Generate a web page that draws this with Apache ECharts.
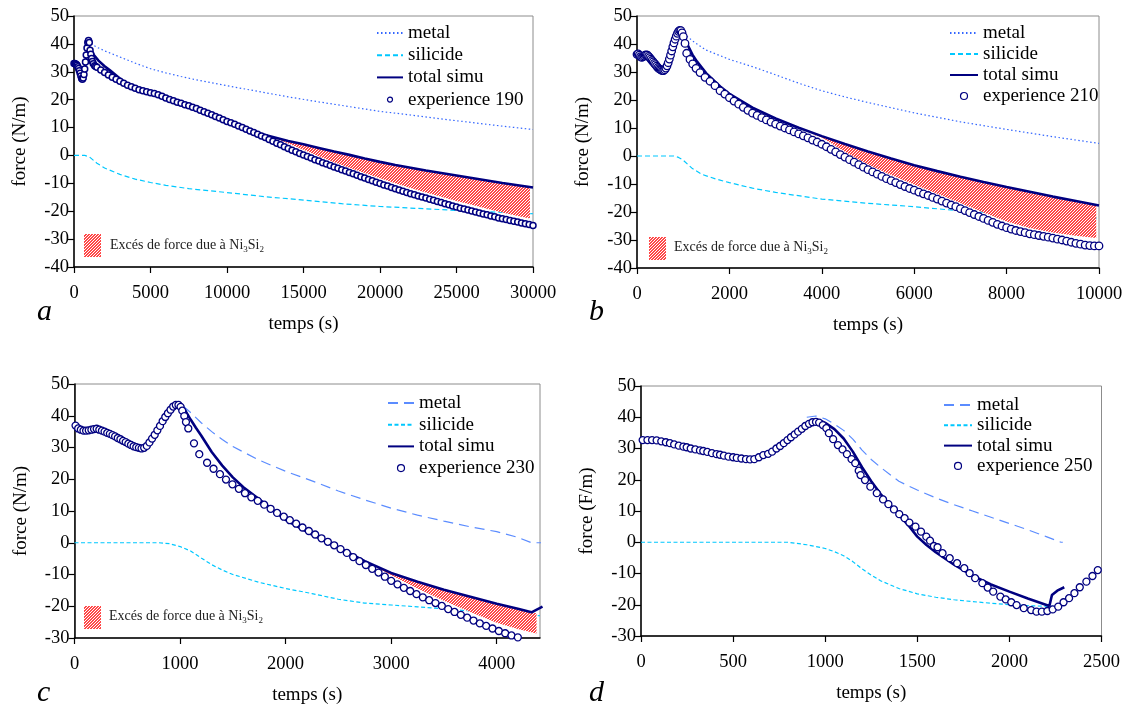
<!DOCTYPE html>
<html><head><meta charset="utf-8">
<script src="https://cdn.jsdelivr.net/npm/echarts@6/dist/echarts.min.js"></script>
<style>html,body{margin:0;padding:0;background:#fff}#c{width:1126px;height:706px}</style>
</head><body><div id="c"></div>
<script>
// ---------- Panel a (experience 190) ----------
const metalA = [[1100,40],[1500,38.8],[2000,37.5],[3000,35.3],[4000,33.1],[5000,31.1],[6000,29.6],[7000,28.3],[8000,27.1],[10000,25],[12000,23],[14000,21],[16000,19.2],[18000,17.5],[20000,15.8],[22000,14.5],[24000,13.1],[26000,11.8],[28000,10.5],[30000,9.3]];
const silA = [[0,0],[700,0],[1000,-0.5],[1500,-2.8],[2000,-4.5],[3000,-6.8],[4000,-8.5],[5000,-9.7],[6000,-10.7],[7500,-11.9],[10000,-13.3],[12500,-14.8],[15000,-16],[17500,-17.3],[20000,-18.3],[22500,-19],[25000,-19.7],[27500,-20.3],[30000,-20.9]];
const totA = [[0,33],[200,32.3],[400,29.5],[500,27.6],[600,27.8],[700,31],[800,35],[900,38.5],[1000,38.6],[1100,37.8],[1300,36],[1600,34],[2000,32],[2350,30.5],[3000,27.6],[3500,25.4],[4000,24.2],[5000,22.5],[6000,20.6],[7000,18.7],[8000,16.8],[9000,14.6],[10000,12.3],[11000,10.1],[12000,8],[13000,6.6],[14000,5.2],[15000,4],[16000,2.7],[17000,1.4],[18000,0.2],[19000,-1.1],[20000,-2.3],[21000,-3.4],[22000,-4.4],[23000,-5.4],[24000,-6.3],[25000,-7.2],[26000,-8.1],[27000,-9],[28000,-9.9],[29000,-10.7],[30000,-11.5]];
const expA = [[0,33],[50,33],[100,32.8],[150,32.6],[200,32.3],[250,31.8],[300,31.2],[350,30.4],[400,29.5],[450,28.5],[500,27.6],[550,27.3],[600,27.8],[650,29],[700,31],[750,33.5],[800,36],[850,38.5],[900,40.5],[950,41.2],[1000,40.5],[1050,37.7],[1100,36.3],[1150,34.8],[1200,33.7],[1263,32.9],[1350,32.2],[1420,31.9],
[1500,31.6],[1750,30.6],[2000,29.7],[2250,28.8],[2500,28],[2750,27.3],[3000,26.6],[3250,25.9],[3500,25.2],[3750,24.6],[4000,24.1],[4250,23.6],[4500,23.2],[4750,22.8],[5000,22.5],[5250,22.2],[5500,21.8],[5750,21.2],[6000,20.6],[6250,20.1],[6500,19.6],[6750,19.1],[7000,18.7],[7250,18.2],[7500,17.8],[7750,17.3],[8000,16.8],[8250,16.2],[8500,15.7],[8750,15.1],[9000,14.6],[9250,14],[9500,13.4],[9750,12.8],[10000,12.2],[10250,11.7],[10500,11.2],[10750,10.6],[11000,10],[11250,9.4],[11500,8.8],[11750,8.2],[12000,7.6],[12250,7],[12500,6.4],[12750,5.7],[13000,5.1],[13250,4.4],[13500,3.8],[13750,3.1],[14000,2.5],[14250,1.9],[14500,1.3],[14750,0.7],[15000,0.2],[15250,-0.4],[15500,-0.9],[15750,-1.5],[16000,-2],[16250,-2.6],[16500,-3.1],[16750,-3.6],[17000,-4.1],[17250,-4.6],[17500,-5.1],[17750,-5.6],[18000,-6.1],[18250,-6.6],[18500,-7.1],[18750,-7.6],[19000,-8.1],[19250,-8.6],[19500,-9.1],[19750,-9.6],[20000,-10.1],[20250,-10.6],[20500,-11],[20750,-11.5],[21000,-11.9],[21250,-12.4],[21500,-12.8],[21750,-13.3],[22000,-13.7],[22250,-14.1],[22500,-14.5],[22750,-14.9],[23000,-15.3],[23250,-15.7],[23500,-16.1],[23750,-16.5],[24000,-16.9],[24250,-17.3],[24500,-17.7],[24750,-18.1],[25000,-18.5],[25250,-18.9],[25500,-19.2],[25750,-19.6],[26000,-19.9],[26250,-20.3],[26500,-20.6],[26750,-21],[27000,-21.3],[27250,-21.7],[27500,-22],[27750,-22.4],[28000,-22.7],[28250,-23],[28500,-23.3],[28750,-23.6],[29000,-23.9],[29250,-24.2],[29500,-24.5],[29750,-24.8],[30000,-25.1]];
const hatchTopA = [[12700,7],[13000,6.6],[14000,5.2],[15000,4],[16000,2.7],[17000,1.4],[18000,0.2],[19000,-1.1],[20000,-2.3],[21000,-3.4],[22000,-4.4],[23000,-5.4],[24000,-6.3],[25000,-7.2],[26000,-8.1],[27000,-9],[28000,-9.9],[29000,-10.7],[29800,-11.3]];
const hatchBotA = [[12700,7],[13000,6.5],[14000,4.3],[15000,2],[16000,-0.3],[17000,-2.4],[18000,-4.4],[19000,-6.3],[20000,-8.2],[21000,-10],[22000,-11.7],[23000,-13.3],[24000,-14.8],[25000,-16.3],[26000,-17.7],[27000,-19.1],[28000,-20.5],[29000,-21.7],[29800,-22.6]];

// ---------- Panel b (experience 210) ----------
const metalB = [[1000,43.5],[1100,42.5],[1250,40.5],[1500,37.8],[2000,34.5],[2500,31.9],[3000,29],[3500,26],[4000,23.3],[4500,21.1],[5000,19.1],[6000,15.4],[7000,12.2],[8000,9.5],[9000,6.9],[10000,4.5]];
const silB = [[0,0],[800,0],[900,-0.5],[1000,-1.5],[1100,-3],[1200,-4.5],[1400,-6.5],[1700,-8.2],[2000,-9.5],[2500,-11.5],[3000,-13],[4000,-15.4],[5000,-16.9],[6000,-18.1],[7000,-19.6],[8000,-20.5],[9000,-21.4],[10000,-22.2]];
const totB = [[0,36.3],[100,35.2],[200,36.1],[300,34.6],[400,32.6],[500,30.9],[575,30.5],[650,32.2],[750,37.5],[850,42.8],[925,44.9],[960,44.5],[1000,43],[1100,39.5],[1200,36.2],[1300,33.7],[1500,29.5],[1800,24.8],[2000,22.2],[2500,17.3],[3000,13.4],[3500,10.1],[4000,7.1],[4500,4.3],[5000,1.6],[5500,-0.9],[6000,-3.3],[6500,-5.4],[7000,-7.4],[7500,-9.3],[8000,-11.1],[8500,-12.8],[9000,-14.5],[9500,-16.1],[10000,-17.7]];
const expB = [[0,36.3],[25,36.5],[50,36],[75,35.5],[100,35.2],[125,35.4],[150,35.7],[175,36],[200,36.1],[225,36],[250,35.6],[275,35.1],[300,34.6],[325,34.1],[350,33.6],[375,33.1],[400,32.6],[425,32.1],[450,31.6],[475,31.2],[500,30.9],[525,30.7],[550,30.5],[575,30.5],[600,30.8],[625,31.4],[650,32.2],[675,33.3],[700,34.6],[725,36],[750,37.5],[775,39],[800,40.4],[825,41.7],[850,42.8],[875,43.8],[900,44.5],[925,44.9],[950,44.8],[975,44],[1003,42.6],[1039,40.2],[1075,36.7],[1147,34.5],[1205,32.9],[1277,31.3],[1364,29.8],[1472,28.1],[1580,26.7],[1688,25.1],[1797,23.3],[1900,22.1],[2000,20.8],[2100,19.6],[2200,18.5],[2300,17.4],[2400,16.3],[2500,15.3],[2600,14.5],[2700,13.7],[2800,12.9],[2900,12.1],[3000,11.4],[3100,10.7],[3200,10],[3300,9.3],[3400,8.6],[3500,7.9],[3600,7.2],[3700,6.5],[3800,5.7],[3900,5],[4000,4.2],[4100,3.3],[4200,2.4],[4300,1.5],[4400,0.5],[4500,-0.4],[4600,-1.3],[4700,-2.2],[4800,-3.1],[4900,-4],[5000,-4.9],[5100,-5.7],[5200,-6.5],[5300,-7.3],[5400,-8.1],[5500,-8.8],[5600,-9.5],[5700,-10.2],[5800,-10.9],[5900,-11.6],[6000,-12.2],[6100,-12.9],[6200,-13.5],[6300,-14.1],[6400,-14.8],[6500,-15.4],[6600,-16.1],[6700,-16.8],[6800,-17.5],[6900,-18.1],[7000,-18.8],[7100,-19.5],[7200,-20.2],[7300,-20.9],[7400,-21.6],[7500,-22.3],[7600,-23],[7700,-23.7],[7800,-24.4],[7900,-25],[8000,-25.6],[8100,-26.1],[8200,-26.6],[8300,-27],[8400,-27.4],[8500,-27.8],[8600,-28.1],[8700,-28.4],[8800,-28.7],[8900,-29],[9000,-29.3],[9100,-29.7],[9200,-30],[9300,-30.4],[9400,-30.8],[9500,-31.2],[9600,-31.5],[9700,-31.8],[9800,-32],[9900,-32.1],[10000,-32.1]];
const hatchTopB = [[3800,7.7],[4000,7.1],[4500,4.3],[5000,1.6],[5500,-0.9],[6000,-3.3],[6500,-5.4],[7000,-7.4],[7500,-9.3],[8000,-11.1],[8500,-12.8],[9000,-14.5],[9500,-16.1],[9940,-17.5]];
const hatchBotB = [[3800,7.7],[4000,6.6],[4500,1.5],[5000,-3],[5500,-6.8],[6000,-10.2],[6500,-13.5],[7000,-16.8],[7500,-20.2],[8000,-23.4],[8500,-25.7],[9000,-27.3],[9500,-28.5],[9940,-29.3]];

// ---------- Panel c (experience 230) ----------
const metalC = [[1030,43],[1100,41],[1200,37.8],[1300,35],[1400,32.5],[1500,30.3],[1750,26],[2000,22.5],[2250,19.5],[2500,16.3],[2750,13.5],[3000,10.9],[3250,8.7],[3500,6.8],[3750,5],[4000,3.5],[4200,1.7],[4330,0],[4420,0]];
const silC = [[0,0],[800,0],[900,-0.3],[1000,-1.2],[1100,-2.6],[1200,-4.8],[1300,-6.9],[1400,-8.6],[1500,-10],[1750,-12.5],[2000,-14.4],[2250,-16],[2500,-17.8],[2750,-19],[3000,-19.6],[3250,-20.2],[3500,-20.8],[3750,-21.5],[4000,-22.2],[4410,-23]];
const totC = [[10,36.9],[110,35.3],[210,35.9],[310,34.6],[410,33],[510,31.2],[610,29.9],[660,29.9],[710,31.6],[760,34],[810,36.8],[860,39.6],[910,41.9],[960,43.2],[1000,43.2],[1050,41.6],[1100,38.8],[1150,36.2],[1200,33.8],[1300,28.6],[1400,24.3],[1500,20.6],[1600,17.5],[1750,13.7],[2000,7.2],[2250,2.6],[2500,-1.5],[2750,-5.8],[3000,-9.5],[3250,-12.3],[3500,-14.8],[3750,-17],[4000,-19.2],[4200,-20.8],[4330,-21.9],[4434,-20.1]];
const expC = [[10,36.9],[35,36],[60,35.6],[85,35.3],[110,35.3],[135,35.4],[160,35.6],[185,35.8],[210,35.9],[235,35.6],[260,35.3],[285,35],[310,34.6],[335,34.3],[360,33.9],[385,33.5],[410,33],[435,32.6],[460,32.1],[485,31.7],[510,31.2],[535,30.8],[560,30.4],[585,30.1],[610,29.9],[635,29.7],[660,29.9],[685,30.5],[710,31.6],[735,32.8],[760,34],[785,35.4],[810,36.8],[835,38.3],[860,39.6],[885,40.8],[910,41.9],[935,42.9],[960,43.4],[985,43.4],[1005,42.8],[1021,41.6],[1040,39.9],[1056,38],[1078,36],[1132,31.3],[1182,27.9],[1256,25.2],[1317,23.3],[1378,21.6],[1435,19.9],[1496,18.4],[1557,17],[1615,15.6],[1675,14.3],[1736,13.2],[1797,12],[1858,10.7],[1919,9.4],[1983,8.2],[2040,7.1],[2100,6],[2160,4.8],[2220,3.7],[2280,2.6],[2340,1.4],[2400,0.3],[2460,-0.8],[2520,-2],[2580,-3.2],[2640,-4.5],[2700,-5.8],[2760,-7],[2820,-8.2],[2880,-9.4],[2940,-10.7],[3000,-12],[3060,-13.1],[3120,-14.2],[3180,-15.2],[3240,-16.2],[3300,-17.2],[3360,-18.1],[3420,-19],[3480,-19.9],[3540,-20.9],[3600,-21.8],[3660,-22.7],[3720,-23.6],[3780,-24.5],[3840,-25.4],[3900,-26.2],[3960,-27],[4020,-27.8],[4080,-28.5],[4140,-29.2],[4200,-29.8]];
const hatchTopC = [[2800,-6.6],[3000,-9.5],[3250,-12.3],[3500,-14.8],[3750,-17],[4000,-19.2],[4200,-20.8],[4330,-21.9],[4377,-22.2]];
const hatchBotC = [[2800,-6.6],[3000,-10.2],[3250,-14.4],[3500,-18.3],[3750,-21.8],[4000,-25.2],[4200,-27.2],[4377,-28.6]];

// ---------- Panel d (experience 250) ----------
const metalD = [[900,40],[950,40.4],[1000,39.5],[1050,37.8],[1100,35.8],[1150,33],[1200,29.5],[1250,26.5],[1300,24],[1400,19.5],[1500,16.7],[1600,14.2],[1700,12],[1800,10],[1900,8],[2000,6],[2100,4],[2200,1.8],[2280,0],[2290,0]];
const silD = [[0,0],[800,0],[900,-0.8],[1000,-2],[1050,-3],[1100,-4.3],[1150,-6.2],[1200,-8.5],[1250,-10.5],[1300,-12.3],[1400,-14.8],[1500,-16.5],[1600,-17.6],[1700,-18.4],[1800,-19],[1900,-19.5],[2000,-20],[2100,-20.3],[2250,-20.6]];
const totD = [[0,33],[100,32.6],[200,31.1],[300,29.5],[400,28.2],[500,27.2],[600,26.5],[700,28.6],[800,33],[870,36.6],[900,38],[940,39],[980,38.7],[1000,38.2],[1050,36.2],[1100,33.2],[1150,29],[1200,24],[1250,19.5],[1300,15.5],[1350,12],[1400,8.8],[1450,5.5],[1500,1.8],[1550,-0.9],[1600,-3.2],[1700,-7.2],[1800,-10.7],[1900,-13.5],[2000,-15.8],[2100,-18],[2217,-20.4],[2231,-16.9],[2260,-15.5],[2298,-14.4]];
const expD = [[9,32.7],[35,32.7],[60,32.7],[85,32.6],[110,32.3],[135,32],[157,31.7],[180,31.3],[205,30.9],[230,30.6],[248,30.4],[270,30],[295,29.7],[320,29.4],[338,29.2],[360,28.9],[385,28.5],[410,28.2],[429,28],[450,27.7],[475,27.4],[500,27.2],[520,27],[545,26.8],[570,26.6],[592,26.5],[615,26.6],[640,27.2],[664,27.9],[690,28.3],[712,29],[735,30],[755,30.8],[775,31.7],[795,32.7],[814,33.6],[834,34.5],[853,35.4],[873,36.3],[892,37.2],[912,37.9],[931,38.4],[950,38.5],[967,38.3],[987,37.5],[1006,36.5],[1020,34.9],[1043,33],[1069,31.1],[1094,29.7],[1118,28.2],[1143,26.6],[1163,25.3],[1182,22.9],[1192,21.5],[1216,19.9],[1245,17.8],[1280,15.7],[1314,13.7],[1343,12.2],[1373,10.5],[1402,9],[1431,7.7],[1457,6.3],[1490,5],[1520,3.4],[1549,1.8],[1569,0.5],[1590,-1.2],[1610,-1.6],[1637,-3.5],[1676,-5.1],[1716,-6.7],[1755,-8.3],[1784,-9.9],[1814,-11.5],[1853,-13.1],[1882,-14.5],[1912,-15.8],[1951,-17.4],[1980,-18.3],[2010,-19.2],[2039,-20.1],[2078,-21.1],[2118,-21.7],[2147,-22.2],[2176,-22.2],[2206,-22],[2235,-21.5],[2265,-20.6],[2294,-19.2],[2324,-17.9],[2353,-16.3],[2382,-14.4],[2418,-12.6],[2451,-10.8],[2480,-8.9]];

// ---------- texts ----------
const xTitle = 'temps (s)';
const yTitles = ['force (N/m)','force (N/m)','force (N/m)','force (F/m)'];
const expNames = ['experience 190','experience 210','experience 230','experience 250'];
const panelLetters = ['a','b','c','d'];
const xTicksC = [0,1000,2000,3000,4000];

const FONT = '"Liberation Serif","Times New Roman",serif';
const NAVY = '#000080';

function makeHatch(){
  const c = document.createElement('canvas'); c.width = 3; c.height = 3;
  const g = c.getContext('2d');
  g.fillStyle = '#ffffff'; g.fillRect(0,0,3,3);
  g.fillStyle = '#ff4848';
  for (let i=0;i<3;i++) for (let j=0;j<3;j++) if ((i+j)%3!==0) g.fillRect(i,j,1,1);
  return c;
}
const hatchPattern = {image: makeHatch(), repeat: 'repeat'};

const grids = [
  {left:74, top:16, width:459, height:251},
  {left:637, top:16, width:462, height:252},
  {left:74.5, top:384, width:465.5, height:254},
  {left:641, top:386, width:460.5, height:250}
].map(g => Object.assign({show:true, borderColor:'#8c8c8c', borderWidth:1}, g));

const xDefs = [
  {max:30000, interval:5000},
  {max:10000, interval:2000},
  {max:4410, interval:1000},
  {max:2500, interval:500}
];
const yDefs = [{min:-40},{min:-40},{min:-30},{min:-30}];

const xAxes = xDefs.map((d,i) => {
  const ax = {
    gridIndex:i, type:'value', min:0, max:d.max, interval:d.interval,
    axisLine:{show:true, onZero:false, lineStyle:{color:'#000', width:1.5}},
    axisTick:{show:true, inside:false, length:6, lineStyle:{color:'#000', width:1.2}},
    axisLabel:{fontFamily:FONT, fontSize:18.5, color:'#000', margin:17,
      formatter: v => (v % d.interval === 0 ? String(v) : '')},
    splitLine:{show:false},
    name:xTitle, nameLocation:'middle', nameGap:48,
    nameTextStyle:{fontFamily:FONT, fontSize:19, color:'#000'}
  };
  if (i === 2) { ax.axisLabel.customValues = xTicksC; ax.axisTick.customValues = xTicksC; }
  return ax;
});
const yAxes = yDefs.map((d,i) => ({
  gridIndex:i, type:'value', min:d.min, max:50, interval:10,
  axisLine:{show:true, onZero:false, lineStyle:{color:'#000', width:1.5}},
  axisTick:{show:true, inside:false, length:6, lineStyle:{color:'#000', width:1.2}},
  axisLabel:{fontFamily:FONT, fontSize:18.5, color:'#000', margin:5},
  splitLine:{show:false},
  name:yTitles[i], nameLocation:'middle', nameGap:44,
  nameTextStyle:{fontFamily:FONT, fontSize:19, color:'#000'}
}));

const panels = [
  {metal:metalA, sil:silA, tot:totA, exp:expA, top:hatchTopA, bot:hatchBotA, dotted:true, sym:6, bw:1.5},
  {metal:metalB, sil:silB, tot:totB, exp:expB, top:hatchTopB, bot:hatchBotB, dotted:true, sym:7.5, bw:1.3},
  {metal:metalC, sil:silC, tot:totC, exp:expC, top:hatchTopC, bot:hatchBotC, dotted:false, sym:7, bw:1.3},
  {metal:metalD, sil:silD, tot:totD, exp:expD, top:null, bot:null, dotted:false, sym:7, bw:1.3}
];
const tags = ['#a','#b','#c','#d'];

const series = [];
panels.forEach((p,i) => {
  const t = tags[i];
  series.push({
    name:'metal'+t, type:'line', xAxisIndex:i, yAxisIndex:i, data:p.metal, symbol:'none', z:2,
    lineStyle: p.dotted ? {color:'#3366ff', width:1.2, type:[1.5,2.5]} : {color:'#5b8cff', width:1.2, type:[10,6]}
  });
  series.push({
    name:'silicide'+t, type:'line', xAxisIndex:i, yAxisIndex:i, data:p.sil, symbol:'none', z:2,
    lineStyle: p.dotted ? {color:'#00c8ff', width:1.2, type:[5,3]} : {color:'#00c8ff', width:1.2, type:[4,2.5]}
  });
  if (p.top) {
    const top = p.top, bot = p.bot;
    series.push({
      name:'hatch'+t, type:'custom', xAxisIndex:i, yAxisIndex:i, z:3, silent:true,
      data:[top[0]],
      renderItem:(params, api) => {
        const pts = top.map(q => api.coord(q)).concat(bot.slice().reverse().map(q => api.coord(q)));
        return {type:'polygon', shape:{points:pts}, style:{fill:hatchPattern, stroke:null}};
      }
    });
  }
  series.push({
    name:'total simu'+t, type:'line', xAxisIndex:i, yAxisIndex:i, data:p.tot, symbol:'none', z:4,
    lineStyle:{color:NAVY, width:2.6}
  });
  series.push({
    name:expNames[i], type:'scatter', xAxisIndex:i, yAxisIndex:i, data:p.exp, z:5,
    symbol:'circle', symbolSize:p.sym,
    itemStyle:{color:'#ffffff', borderColor:NAVY, borderWidth:p.bw, opacity:1}
  });
});

const legendPos = [
  {left:376, top:23, gap:2.2, w:26, h:5},
  {left:949, top:23, gap:1, w:28, h:7},
  {left:387, top:393, gap:1.7, w:26, h:7},
  {left:943, top:395, gap:0.3, w:28, h:7}
];
const hideSym = {opacity:0};
const legends = legendPos.map((L,i) => ({
  orient:'vertical', left:L.left, top:L.top, padding:0, itemGap:L.gap,
  itemWidth:L.w, itemHeight:L.h,
  selectedMode:false,
  textStyle:{fontFamily:FONT, fontSize:19, color:'#000', lineHeight:20},
  formatter: n => n.split('#')[0],
  data:[
    {name:'metal'+tags[i], itemStyle:hideSym},
    {name:'silicide'+tags[i], itemStyle:hideSym},
    {name:'total simu'+tags[i], itemStyle:hideSym},
    {name:expNames[i], itemStyle:{color:'#ffffff', borderColor:NAVY, borderWidth:1.2}}
  ]
}));

// hatch legends and panel letters
const hatchLegendPos = [
  {x:84, y:234, tx:110, ty:245},
  {x:649, y:237, tx:674, ty:247},
  {x:84, y:606, tx:109, ty:616}
];
const graphics = [];
hatchLegendPos.forEach(h => {
  graphics.push({type:'rect', shape:{x:h.x, y:h.y, width:17, height:23}, style:{fill:hatchPattern}, silent:true});
  graphics.push({type:'text', x:h.tx, y:h.ty, silent:true, style:{
    text:'{n|Excés de force due à Ni}{s|3}{n|Si}{s|2}',
    fill:'#222', verticalAlign:'middle',
    rich:{
      n:{fontFamily:FONT, fontSize:14, lineHeight:18, fill:'#222'},
      s:{fontFamily:FONT, fontSize:9, lineHeight:9, verticalAlign:'bottom', fill:'#222'}
    }
  }});
});
const letterPos = [[37,312],[589,312],[37,693],[589,693]];
letterPos.forEach((p,i) => {
  graphics.push({type:'text', x:p[0], y:p[1], silent:true, style:{
    text:panelLetters[i], font:'italic 30px "Liberation Serif","Times New Roman",serif', fill:'#000', verticalAlign:'middle'
  }});
});

const chart = echarts.init(document.getElementById('c'), null, {renderer:'canvas'});
chart.setOption({
  animation:false,
  backgroundColor:'#ffffff',
  grid:grids, xAxis:xAxes, yAxis:yAxes, legend:legends, series:series, graphic:graphics
});
</script>
</body></html>
